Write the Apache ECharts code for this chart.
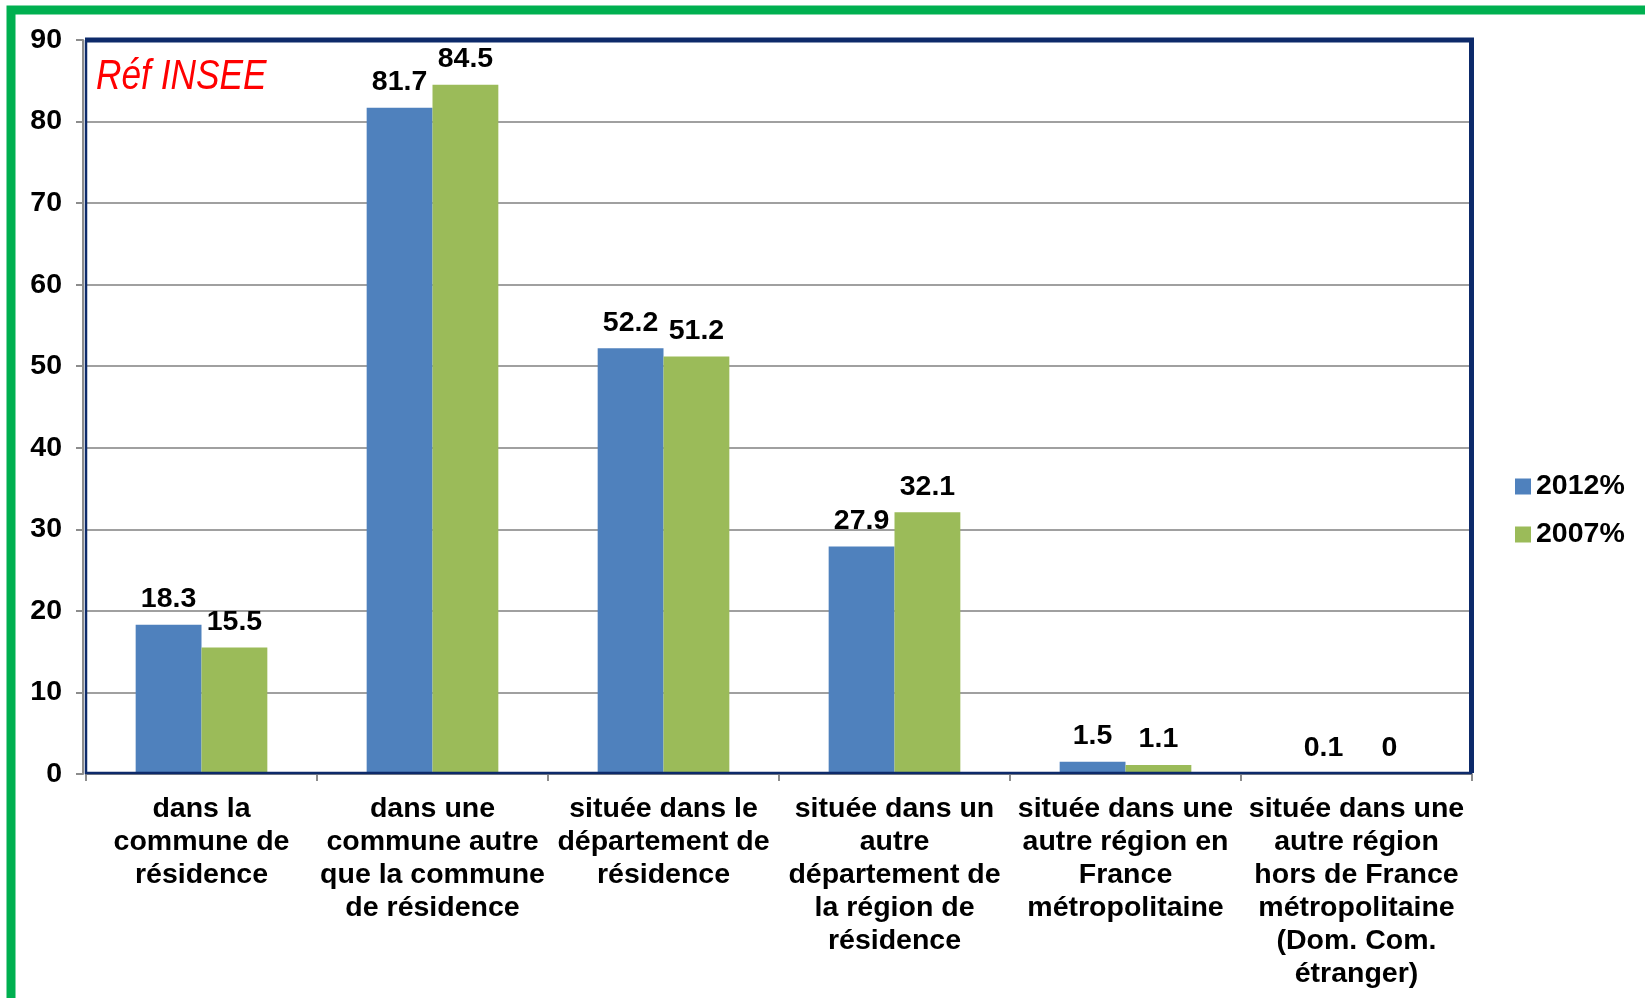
<!DOCTYPE html>
<html>
<head>
<meta charset="utf-8">
<script src="https://cdn.jsdelivr.net/npm/echarts@6/dist/echarts.min.js"></script>
<style>
  html, body { margin: 0; padding: 0; background: #fff; }
  #chart { width: 1645px; height: 998px; }
</style>
</head>
<body>
<div id="chart"></div>
<script>
// catégories (retours à la ligne comme sur l'original)
const categories = [
  'dans la\ncommune de\nrésidence',
  'dans une\ncommune autre\nque la commune\nde résidence',
  'située dans le\ndépartement de\nrésidence',
  'située dans un\nautre\ndépartement de\nla région de\nrésidence',
  'située dans une\nautre région en\nFrance\nmétropolitaine',
  'située dans une\nautre région\nhors de France\nmétropolitaine\n(Dom. Com.\nétranger)'
]
const values2012 = [18.3, 81.7, 52.2, 27.9, 1.5, 0.1]
const values2007 = [15.5, 84.5, 51.2, 32.1, 1.1, 0]
const seriesNames = ['2012%', '2007%']

const FONT = "'Liberation Sans', Arial, sans-serif"
const FS = 28.5

const myChart = echarts.init(document.getElementById('chart'))

const labelStyle = {
  show: true,
  position: 'top',
  distance: 11,
  color: '#000',
  fontFamily: FONT,
  fontWeight: 'bold',
  fontSize: FS
}

// cadre de la zone de tracé
const G = { left: 86, right: 1472, top: 40, bottom: 774 }

const option = {
  backgroundColor: '#fff',
  animation: false,
  grid: {
    left: G.left,
    right: 1645 - G.right,
    top: G.top,
    bottom: 998 - G.bottom
  },
  legend: {
    orient: 'vertical',
    left: 1510,
    top: 467,
    itemWidth: 16,
    itemHeight: 16,
    itemGap: 19,
    icon: 'rect',
    textStyle: {
      color: '#000',
      fontFamily: FONT,
      fontWeight: 'bold',
      fontSize: FS,
      padding: [0, 0, 0, 0]
    },
    data: seriesNames
  },
  xAxis: {
    type: 'category',
    data: categories,
    offset: 3,
    axisLine: { lineStyle: { color: '#8c8c8c', width: 2 } },
    axisTick: { show: true, length: 7, lineStyle: { color: '#8c8c8c', width: 2 } },
    axisLabel: {
      interval: 0,
      margin: 16,
      color: '#000',
      fontFamily: FONT,
      fontWeight: 'bold',
      fontSize: FS,
      lineHeight: 33
    }
  },
  yAxis: {
    type: 'value',
    min: 0,
    max: 90,
    interval: 10,
    offset: 3,
    axisLine: { show: true, lineStyle: { color: '#8c8c8c', width: 2 } },
    axisTick: { show: true, length: 7, lineStyle: { color: '#8c8c8c', width: 2 } },
    splitLine: { lineStyle: { color: '#a0a0a0', width: 2 } },
    axisLabel: {
      margin: 21,
      color: '#000',
      fontFamily: FONT,
      fontWeight: 'bold',
      fontSize: FS
    }
  },
  series: [
    {
      name: seriesNames[0],
      type: 'bar',
      data: values2012,
      barGap: '0%',
      barCategoryGap: '43%',
      itemStyle: { color: '#4f81bd' },
      label: labelStyle
    },
    {
      name: seriesNames[1],
      type: 'bar',
      data: values2007,
      barGap: '0%',
      barCategoryGap: '43%',
      itemStyle: { color: '#9bbb59' },
      label: labelStyle
    }
  ],
  graphic: [
    {
      type: 'polyline',
      z: 90,
      silent: true,
      shape: { points: [[G.left, G.top], [G.left, G.bottom - 1], [G.right, G.bottom - 1]] },
      style: { fill: 'none', stroke: '#0d2a6a', lineWidth: 2.5 }
    },
    {
      type: 'polyline',
      z: 91,
      silent: true,
      shape: { points: [[G.left - 1, G.top], [G.right - 0.5, G.top], [G.right - 0.5, G.bottom - 1]] },
      style: { fill: 'none', stroke: '#0d2a6a', lineWidth: 5 }
    },
    {
      type: 'rect',
      z: 100,
      silent: true,
      shape: { x: 11, y: 10, width: 1800, height: 1200 },
      style: { fill: 'none', stroke: '#00b050', lineWidth: 9 }
    },
    {
      type: 'text',
      z: 100,
      x: 96,
      y: 77,
      scaleX: 0.82,
      style: {
        text: 'Réf INSEE',
        fill: '#ff0000',
        fontFamily: FONT,
        fontStyle: 'italic',
        fontSize: 43,
        verticalAlign: 'middle'
      }
    }
  ]
}

myChart.setOption(option)

window.addEventListener('resize', () => {
  myChart.resize()
})
</script>
</body>
</html>
